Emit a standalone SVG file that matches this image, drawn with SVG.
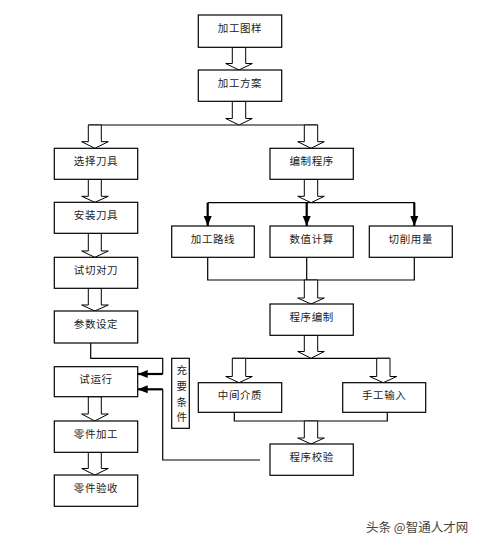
<svg xmlns="http://www.w3.org/2000/svg" width="477" height="545" viewBox="0 0 477 545">
<style>
.box{fill:#fff;stroke:#000;stroke-width:1.2}
.t{font-family:"Noto Sans CJK SC","Liberation Sans",sans-serif;font-size:10.5px;fill:#222;text-anchor:middle;letter-spacing:0.6px}
.ha{fill:#fff;stroke:#000;stroke-width:1}
.ln{fill:none;stroke:#000;stroke-width:1.2}
.th{fill:none;stroke:#000;stroke-width:2.2}
.wm{font-family:"Noto Sans CJK SC","Liberation Sans",sans-serif;font-size:12.5px;fill:#444}
</style>
<defs>
<marker id="ah" markerUnits="userSpaceOnUse" markerWidth="10" markerHeight="10" viewBox="0 0 10 10" refX="10" refY="5" orient="auto">
<path d="M0,1 L10,5 L0,9 Z" fill="#000"/>
</marker>
</defs>
<rect width="477" height="545" fill="#fff"/>
<g id="connectors">
<line class="ln" x1="88.3" y1="125" x2="317.7" y2="125"/>
<line class="ln" x1="207.7" y1="202.7" x2="415" y2="202.7"/>
<line class="th" x1="207.7" y1="202.7" x2="207.7" y2="226" marker-end="url(#ah)"/>
<line class="th" x1="306.7" y1="202.7" x2="306.7" y2="226" marker-end="url(#ah)"/>
<line class="th" x1="414.3" y1="202.7" x2="414.3" y2="226" marker-end="url(#ah)"/>
<path class="ln" d="M207.7,257.3 V280 H414.3 V257.3 M306.7,257.3 V280"/>
<line class="ln" x1="232.3" y1="358.3" x2="390" y2="358.3"/>
<path class="ln" d="M234.3,412.3 V421 H387.3 V412.3"/>
<path class="ln" d="M90.7,343 V358.3 H162.7 V374"/>
<line class="th" x1="162.7" y1="374" x2="137.7" y2="374" marker-end="url(#ah)"/>
<path class="ln" d="M260,460 H162.7 V389.3"/>
<line class="th" x1="162.7" y1="389.3" x2="137.7" y2="389.3" marker-end="url(#ah)"/>
<polygon class="ha" points="232.3,47.3 245.7,47.3 245.7,63.5 252.3,63.5 239,70 225.7,63.5 232.3,63.5"/>
<polygon class="ha" points="232.3,101.3 245.7,101.3 245.7,118.5 252.3,118.5 239,125 225.7,118.5 232.3,118.5"/>
<polygon class="ha" points="88.3,125 101.3,125 101.3,141.7 108.3,141.7 94.8,148.3 81.7,141.7 88.3,141.7"/>
<polygon class="ha" points="304.3,125 317.7,125 317.7,141.7 324.3,141.7 311,148.3 297.7,141.7 304.3,141.7"/>
<polygon class="ha" points="88.3,179.3 101.3,179.3 101.3,196.3 108.3,196.3 94.8,202.3 81.7,196.3 88.3,196.3"/>
<polygon class="ha" points="304.3,179.3 317.7,179.3 317.7,196.3 324.3,196.3 311,202.7 297.7,196.3 304.3,196.3"/>
<polygon class="ha" points="88.3,233.3 101.3,233.3 101.3,251 108.3,251 94.8,257.3 81.7,251 88.3,251"/>
<polygon class="ha" points="88.3,288.3 101.3,288.3 101.3,305 108.3,305 94.8,311 81.7,305 88.3,305"/>
<polygon class="ha" points="304.3,280 317.7,280 317.7,298 324.3,298 311,304 297.7,298 304.3,298"/>
<polygon class="ha" points="304.3,335.3 317.7,335.3 317.7,351.5 324.3,351.5 311,358.3 297.7,351.5 304.3,351.5"/>
<polygon class="ha" points="232.3,358.3 245.7,358.3 245.7,376.5 252.3,376.5 239,382.7 225.7,376.5 232.3,376.5"/>
<polygon class="ha" points="376.7,358.3 390,358.3 390,376.5 396.7,376.5 383.3,382.7 369.7,376.5 376.7,376.5"/>
<polygon class="ha" points="88.3,396.7 101.3,396.7 101.3,414 108.3,414 94.8,421 81.7,414 88.3,414"/>
<polygon class="ha" points="88.3,452.3 101.3,452.3 101.3,468.5 108.3,468.5 94.8,475 81.7,468.5 88.3,468.5"/>
<polygon class="ha" points="304.3,421 317.7,421 317.7,438 324.3,438 311,444 297.7,438 304.3,438"/>
</g>
<g id="n1"><rect class="box" x="198.3" y="15" width="83.4" height="32.3"/><text class="t" x="240" y="31.5">加工图样</text></g>
<g id="n2"><rect class="box" x="198.3" y="70" width="83.4" height="31.3"/><text class="t" x="240" y="86.5">加工方案</text></g>
<g id="n3"><rect class="box" x="54.3" y="148.3" width="83.4" height="31"/><text class="t" x="96" y="164.8">选择刀具</text></g>
<g id="n4"><rect class="box" x="270" y="148.3" width="83.3" height="31"/><text class="t" x="311.7" y="164.8">编制程序</text></g>
<g id="n5"><rect class="box" x="54.3" y="202.3" width="83.4" height="31"/><text class="t" x="96" y="218.8">安装刀具</text></g>
<g id="n6"><rect class="box" x="171.7" y="226" width="82.6" height="31.3"/><text class="t" x="213" y="242.5">加工路线</text></g>
<g id="n7"><rect class="box" x="270" y="226" width="83.3" height="31.3"/><text class="t" x="311.7" y="242.5">数值计算</text></g>
<g id="n8"><rect class="box" x="369.3" y="226" width="83" height="31.3"/><text class="t" x="410.8" y="242.5">切削用量</text></g>
<g id="n9"><rect class="box" x="54.3" y="257.3" width="83.4" height="31"/><text class="t" x="96" y="273.8">试切对刀</text></g>
<g id="n10"><rect class="box" x="54.3" y="311" width="83.4" height="32"/><text class="t" x="96" y="327.5">参数设定</text></g>
<g id="n11"><rect class="box" x="270" y="304" width="83.3" height="31.3"/><text class="t" x="311.7" y="320.5">程序编制</text></g>
<g id="n12"><rect class="box" x="54.3" y="366.7" width="83.4" height="30"/><text class="t" x="96" y="382.5">试运行</text></g>
<g id="n13"><rect class="box" x="171.7" y="358.3" width="17.6" height="70"/>
<text class="t" x="182" y="374">充</text><text class="t" x="182" y="390">要</text><text class="t" x="182" y="406">条</text><text class="t" x="182" y="421">件</text></g>
<g id="n14"><rect class="box" x="198.3" y="382.7" width="83.4" height="29.6"/><text class="t" x="240" y="398.5">中间介质</text></g>
<g id="n15"><rect class="box" x="342.7" y="382.7" width="83" height="29.6"/><text class="t" x="384.2" y="398.5">手工输入</text></g>
<g id="n16"><rect class="box" x="54.3" y="421" width="83.4" height="31.3"/><text class="t" x="96" y="437.5">零件加工</text></g>
<g id="n17"><rect class="box" x="270" y="444" width="83.3" height="31.3"/><text class="t" x="311.7" y="460.5">程序校验</text></g>
<g id="n18"><rect class="box" x="54.3" y="475" width="83.4" height="31.3"/><text class="t" x="96" y="491.5">零件验收</text></g>
<text class="wm" x="366" y="532">头条 @智通人才网</text>
</svg>
